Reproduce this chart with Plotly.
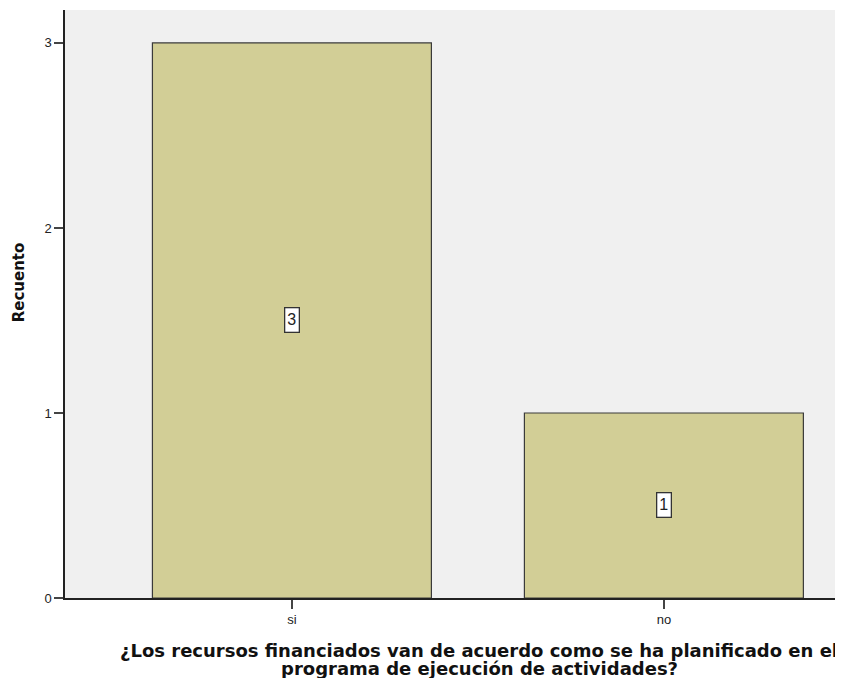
import plotly.graph_objects as go

categories = ["si", "no"]
counts = [3, 1]
y_ticks = [0, 1, 2, 3]
x_title_1 = "¿Los recursos financiados van de acuerdo como se ha planificado en el"
x_title_2 = "programa de ejecución de actividades?"
y_title = "Recuento"

TITLE_FONT = "DejaVu Sans, Verdana, sans-serif"

fig = go.Figure()
fig.add_trace(go.Bar(
    x=categories, y=counts, width=0.75,
    marker=dict(color="#D2CE96", line=dict(color="#3a3a3a", width=1.2)),
    hoverinfo="skip",
))

for c, v in zip(categories, counts):
    fig.add_annotation(
        x=c, y=v / 2, text=str(v), showarrow=False,
        font=dict(family="Liberation Sans, Arial", size=16, color="#222"),
        bgcolor="white", bordercolor="#333", borderwidth=1.3, borderpad=0,
        width=13, height=23,
    )

fig.add_annotation(
    xref="paper", yref="paper", x=0.538, y=0, xanchor="center", yanchor="middle",
    yshift=-52, text="<b>" + x_title_1 + "</b>", showarrow=False,
    font=dict(family=TITLE_FONT, size=18, color="#111"),
)
fig.add_annotation(
    xref="paper", yref="paper", x=0.538, y=0, xanchor="center", yanchor="middle",
    yshift=-70, text="<b>" + x_title_2 + "</b>", showarrow=False,
    font=dict(family=TITLE_FONT, size=18, color="#111"),
)
fig.add_annotation(
    xref="paper", yref="paper", x=-0.0597, y=0.537, xanchor="center", yanchor="middle",
    textangle=-90, text="<b>" + y_title + "</b>", showarrow=False,
    font=dict(family=TITLE_FONT, size=15, color="#111"),
)

fig.update_layout(
    width=827, height=670,
    margin=dict(l=57, r=0, t=2, b=80),
    plot_bgcolor="#F0F0F0", paper_bgcolor="white",
    showlegend=False,
    font=dict(family="Liberation Sans, Arial", size=13, color="#222"),
    xaxis=dict(
        range=[-0.610, 1.460], showgrid=False, zeroline=False,
        showline=True, linecolor="#222", linewidth=1.5,
        ticks="outside", ticklen=9, tickcolor="#444", tickwidth=1.5,
        tickfont=dict(size=13, color="#222"),
    ),
    yaxis=dict(
        range=[0, 3.178], tickvals=y_ticks, showgrid=False, zeroline=False,
        showline=True, linecolor="#222", linewidth=1.5,
        ticks="outside", ticklen=9, tickcolor="#444", tickwidth=1.5,
        tickfont=dict(size=13, color="#222"),
    ),
)

fig.write_html("out.html")
